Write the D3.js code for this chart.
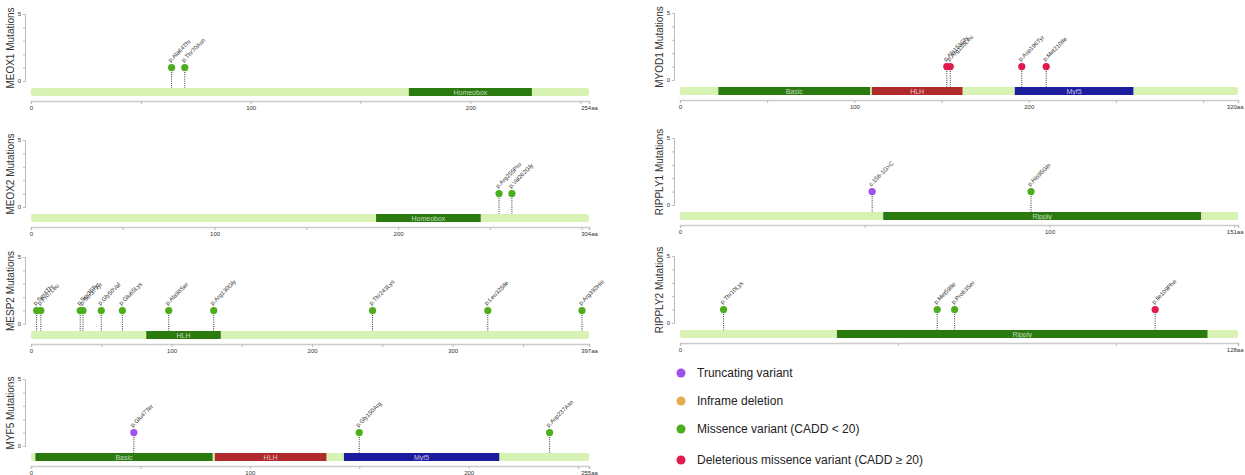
<!DOCTYPE html>
<html>
<head>
<meta charset="utf-8">
<script src="https://cdn.jsdelivr.net/npm/d3@7"></script>
<style>
  body { margin: 0; background: #fff; }
  svg { font-family: "Liberation Sans", Arial, sans-serif; }
</style>
</head>
<body>
<svg id="chart" width="1245" height="475"></svg>
<script>
// data
var genes = ['MEOX1', 'MEOX2', 'MESP2', 'MYF5', 'MYOD1', 'RIPPLY1', 'RIPPLY2'];
var lengths = [254, 304, 397, 255, 320, 151, 128];
var tickLabels = [[0, 100, 200], [0, 100, 200], [0, 100, 200, 300], [0, 100, 200], [0, 100, 200], [0, 100], [0]];

// domains: [start, end, name]
var domMEOX1 = [[172, 228, 'Homeobox']];
var domMEOX2 = [[188, 245, 'Homeobox']];
var domMESP2 = [[82, 135, 'HLH']];
var domMYF5 = [[2, 83, 'Basic'], [84, 135, 'HLH'], [143, 214, 'Myf5']];
var domMYOD1 = [[22, 109, 'Basic'], [110, 162, 'HLH'], [192, 260, 'Myf5']];
var domRIPPLY1 = [[55, 141, 'Ripply']];
var domRIPPLY2 = [[36, 121, 'Ripply']];

// mutations: [position, label, type, count]
var mutMEOX1 = [[64, 'p.Ala64Thr', 'missense', 1], [70, 'p.Thr70Asn', 'missense', 1]];
var mutMEOX2 = [[255, 'p.Arg255Pro', 'missense', 1], [262, 'p.Val262Gly', 'missense', 1]];
var mutMESP2 = [[4, 'p.Ser4Thr', 'missense', 1], [7, 'p.Pro7Leu', 'missense', 1], [35, 'p.Ser35Tyr', 'missense', 1],
  [37, 'p.Ser37Tyr', 'missense', 1], [50, 'p.Gly50Val', 'missense', 1], [65, 'p.Glu65Lys', 'missense', 1],
  [98, 'p.Ala98Ser', 'missense', 1], [130, 'p.Arg130Gly', 'missense', 1], [243, 'p.Thr243Lys', 'missense', 1],
  [325, 'p.Leu325Ile', 'missense', 1], [392, 'p.Arg392His', 'missense', 1]];
var mutMYF5 = [[47, 'p.Glu47Ter', 'trunc', 1], [150, 'p.Gly150Arg', 'missense', 1], [237, 'p.Asp237Asn', 'missense', 1]];
var mutMYOD1 = [[153, 'p.Ala153Gly', 'deleterious', 1], [155, 'p.Arg155Leu', 'deleterious', 1],
  [196, 'p.Asp196Tyr', 'deleterious', 1], [210, 'p.Met210Ile', 'deleterious', 1]];
var mutRIPPLY1 = [[52, 'c.156-1G>C', 'trunc', 1], [95, 'p.His95Gln', 'missense', 1]];
var mutRIPPLY2 = [[10, 'p.Thr10Lys', 'missense', 1], [59, 'p.Met59Ile', 'missense', 1],
  [63, 'p.Pro63Ser', 'missense', 1], [109, 'p.Ile109Phe', 'deleterious', 1]];

var domains = [domMEOX1, domMEOX2, domMESP2, domMYF5, domMYOD1, domRIPPLY1, domRIPPLY2];
var mutations = [mutMEOX1, mutMEOX2, mutMESP2, mutMYF5, mutMYOD1, mutRIPPLY1, mutRIPPLY2];

var legendTypes = ['trunc', 'inframe', 'missense', 'deleterious'];
var legendLabels = ['Truncating variant', 'Inframe deletion', 'Missence variant (CADD < 20)', 'Deleterious missence variant (CADD \u2265 20)'];

// styles
var typeColor = { trunc: '#a050ee', inframe: '#e4ad4c', missense: '#4cae1c', deleterious: '#e2194c' };
var domColor = ['#2b7a10', '#b02a2c', '#1c1c9e'];
var barColor = '#d8f2b4';

// layout
var panelX = [31, 31, 31, 31, 680, 680, 680];
var panelTop = [14, 140, 257, 379, 13, 138, 256];
var trackW = 558;

var svg = d3.select('#chart');

function drawPanel(i) {
    var x0 = panelX[i], top = panelTop[i], len = lengths[i];
    var x = d3.scaleLinear().domain([0, len]).range([x0, x0 + trackW]);
    var y = d3.scaleLinear().domain([0, 5]).range([top + 67, top]);
    var barY = top + 74, barH = 8;
    var g = svg.append('g');

    // y axis
    var ya = g.append('g')
        .attr('transform', 'translate(' + (x0 - 6) + ',0)')
        .call(d3.axisLeft(y).tickValues([0, 1, 2, 3, 4, 5]).tickSize(2).tickPadding(2)
            .tickFormat(function (d) { return (d === 0 || d === 5) ? d : ''; }));
    ya.select('.domain').attr('stroke', '#bbb');
    ya.selectAll('.tick line').attr('stroke', '#bbb');
    ya.selectAll('text').attr('font-size', 6).attr('fill', '#333');

    g.append('text')
        .attr('transform', 'translate(' + (x0 - 17) + ',' + (top + 34) + ') rotate(-90)')
        .attr('text-anchor', 'middle')
        .attr('font-size', 10)
        .attr('fill', '#333')
        .text(genes[i] + ' Mutations');

    // protein backbone
    g.append('rect')
        .attr('x', x(0)).attr('y', barY)
        .attr('width', x(len) - x(0)).attr('height', barH)
        .attr('rx', 2).attr('fill', barColor);

    domains[i].forEach(function (d, k) {
        g.append('rect')
            .attr('x', x(d[0])).attr('y', barY)
            .attr('width', x(d[1]) - x(d[0])).attr('height', barH)
            .attr('fill', domColor[k % 3]);
        g.append('text')
            .attr('x', (x(d[0]) + x(d[1])) / 2).attr('y', barY + barH / 2 + 2.5)
            .attr('text-anchor', 'middle')
            .attr('font-size', 7)
            .attr('fill', 'rgba(255,255,255,0.72)')
            .text(d[2]);
    });

    // lollipops
    mutations[i].forEach(function (m) {
        var cx = x(m[0]), cy = y(m[3]);
        g.append('line')
            .attr('x1', cx).attr('x2', cx)
            .attr('y1', cy).attr('y2', barY)
            .attr('stroke', '#333').attr('stroke-width', 1)
            .attr('stroke-dasharray', '1,1.2');
        g.append('circle')
            .attr('cx', cx).attr('cy', cy).attr('r', 3.6)
            .attr('fill', typeColor[m[2]]);
        g.append('text')
            .attr('transform', 'translate(' + (cx - 1) + ',' + (cy - 5) + ') rotate(-45)')
            .attr('font-size', 6)
            .attr('fill', '#333')
            .text(m[1]);
    });

    // x axis
    var ticks = d3.range(0, len, 50).concat([len]);
    var xa = g.append('g')
        .attr('transform', 'translate(0,' + (top + 87) + ')')
        .call(d3.axisBottom(x).tickValues(ticks).tickSize(3).tickPadding(2)
            .tickFormat(function (d) {
                if (d === len) return len + 'aa';
                return tickLabels[i].indexOf(d) >= 0 ? d : '';
            }));
    xa.select('.domain').attr('stroke', '#ccc').attr('stroke-width', 1.5);
    xa.selectAll('.tick line').attr('stroke', '#bbb');
    xa.selectAll('text').attr('font-size', 6).attr('fill', '#333');
    // keep the end label inside the picture on the right-hand column
    xa.selectAll('.tick text').filter(function (d) { return d === len && x0 + trackW > 1230; })
        .attr('text-anchor', 'end').attr('x', 5);
}

genes.forEach(function (gname, i) { drawPanel(i); });

// legend
var legY = [373, 401, 429, 460];
legendTypes.forEach(function (t, k) {
    svg.append('circle')
        .attr('cx', 681).attr('cy', legY[k]).attr('r', 4.5)
        .attr('fill', typeColor[t]);
    svg.append('text')
        .attr('x', 697).attr('y', legY[k] + 4)
        .attr('font-size', 12)
        .attr('fill', '#222')
        .text(legendLabels[k]);
});
</script>
</body>
</html>
